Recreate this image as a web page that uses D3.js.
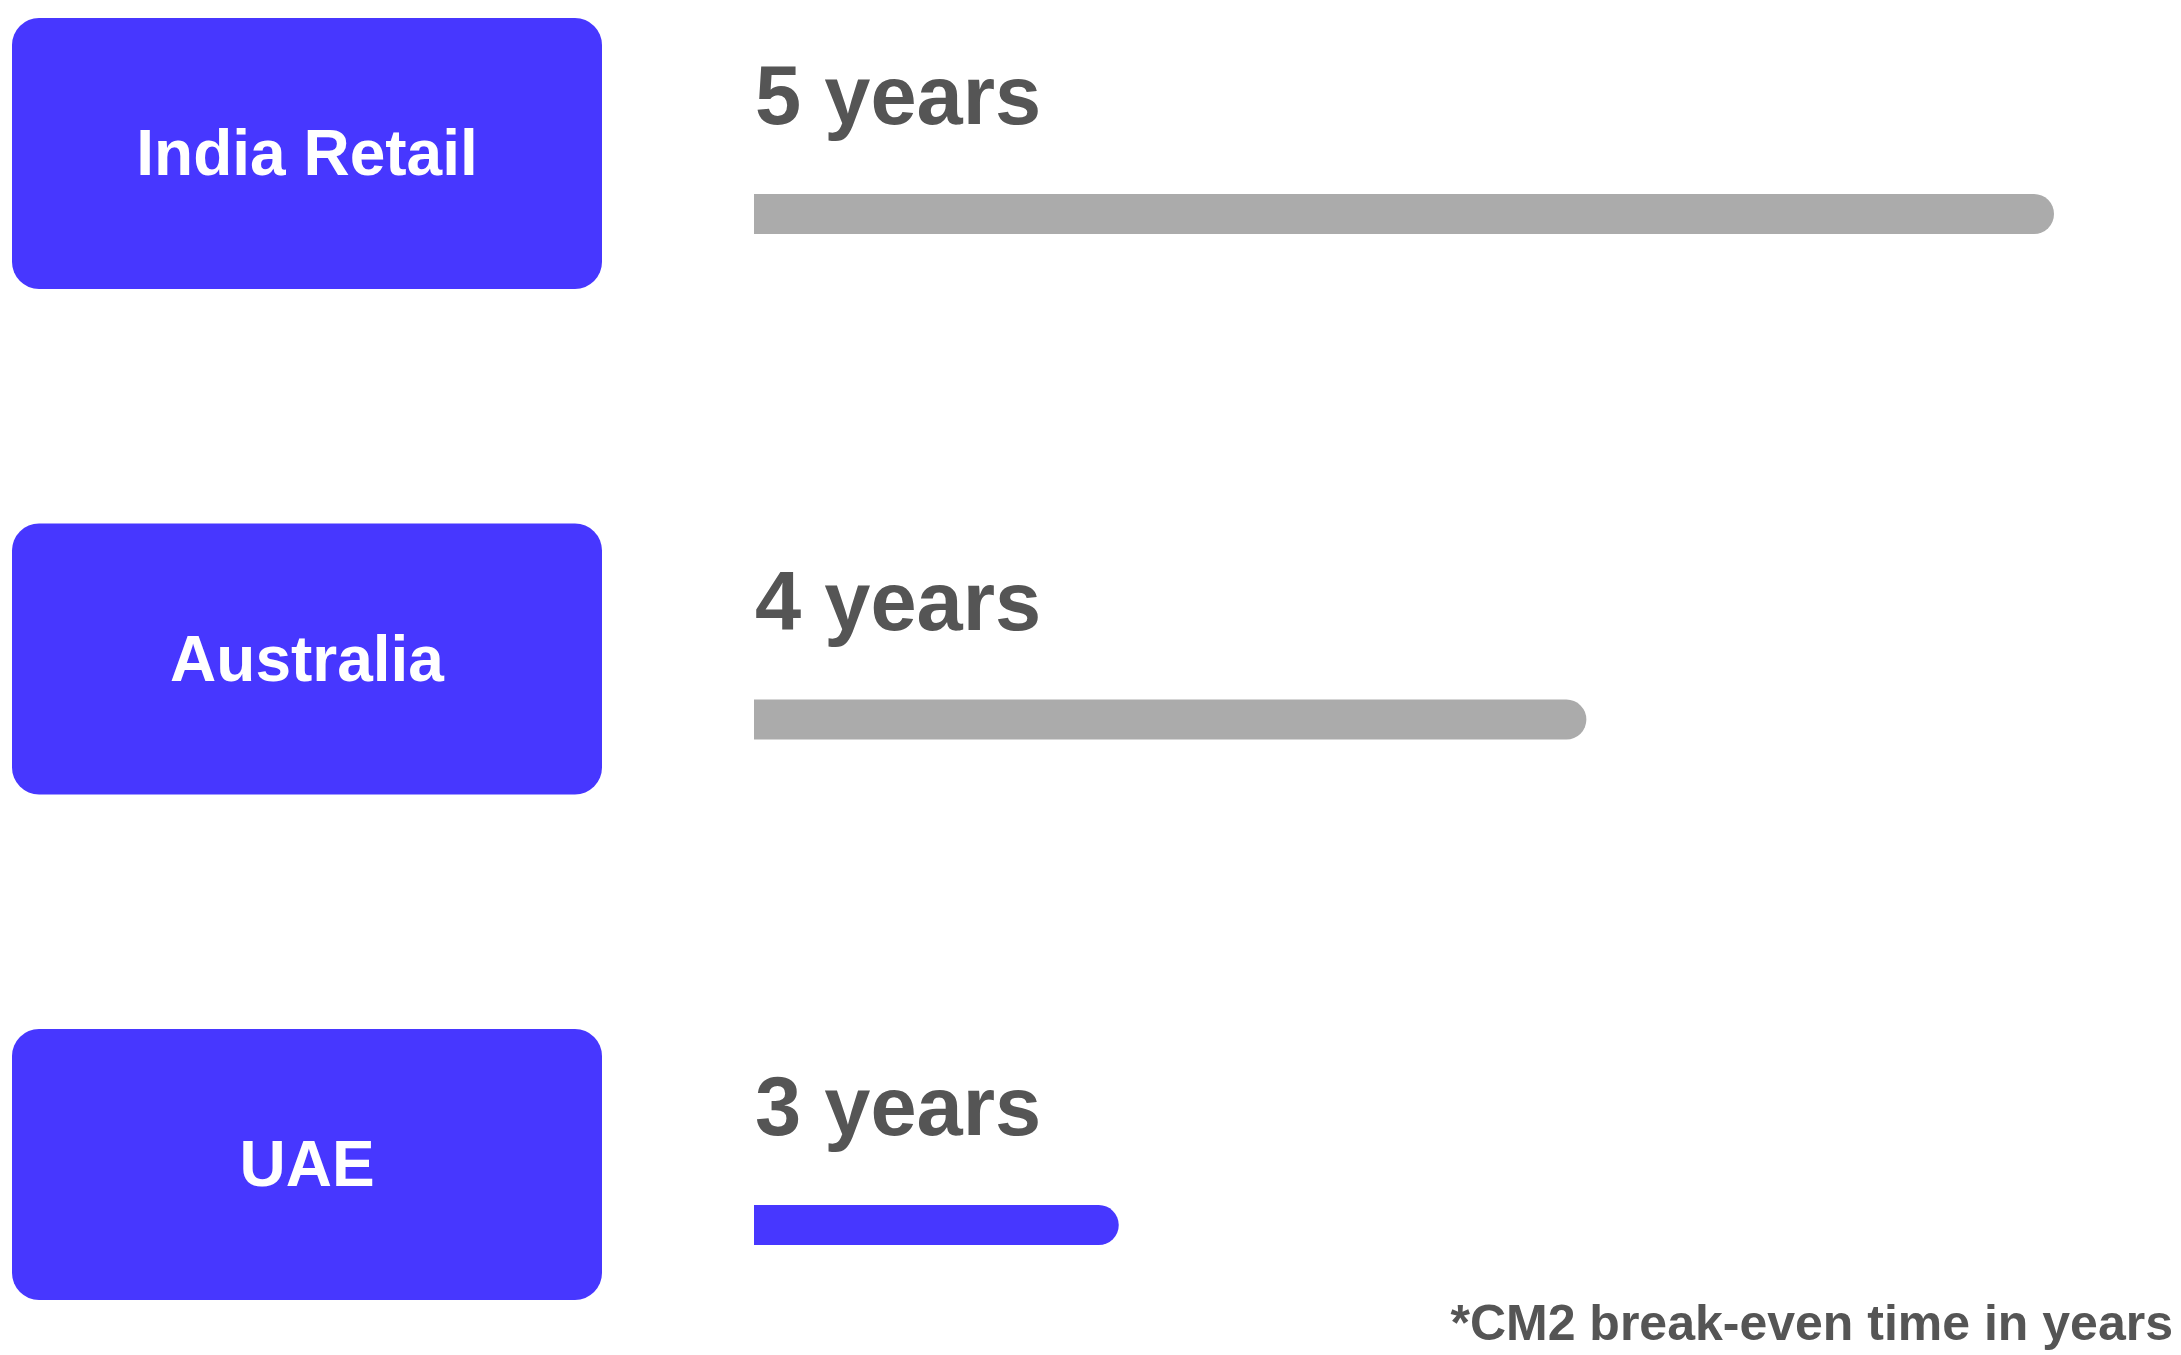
<!DOCTYPE html>
<html>
<head>
<meta charset="utf-8">
<script src="https://cdn.jsdelivr.net/npm/d3@7"></script>
<style>
  html, body { margin: 0; padding: 0; background: #ffffff; }
  svg { display: block; }
</style>
</head>
<body>
<svg id="chart" width="2181" height="1355"></svg>
<script>
// Markets and their CM2 break-even time (years)
const markets = ["India Retail", "Australia", "UAE"];
const breakEvenYears = [5, 4, 3];
const valueLabels = ["5 years", "4 years", "3 years"];
const footnote = "*CM2 break-even time in years";
const highlighted = "UAE";

const W = 2181, H = 1355;
const BLUE = "#4737ff", GREY = "#ababab", TEXT = "#555555";
const FONT = "'Liberation Sans', Arial, sans-serif";

const svg = d3.select("#chart");

// one row per market
const y = d3.scaleBand()
  .domain(markets)
  .range([18, 1300])
  .paddingInner(0.464)
  .paddingOuter(0);

// bar length scale (years)
const x = d3.scaleLinear()
  .domain([2.22, 5])
  .range([754, 2054]);

const barH = 40;
const rows = markets.map((m, i) => ({
  market: m, value: breakEvenYears[i], label: valueLabels[i]
}));

const g = svg.selectAll("g.row")
  .data(rows)
  .join("g")
  .attr("class", "row")
  .attr("transform", d => `translate(0,${y(d.market)})`);

// market tiles
g.append("rect")
  .attr("x", 12)
  .attr("y", 0)
  .attr("width", 590)
  .attr("height", y.bandwidth())
  .attr("rx", 27)
  .attr("ry", 27)
  .attr("fill", BLUE);

g.append("text")
  .attr("x", 307)
  .attr("y", 157)
  .attr("text-anchor", "middle")
  .attr("fill", "#ffffff")
  .attr("font-family", FONT)
  .attr("font-weight", 700)
  .attr("font-size", 64)
  .text(d => d.market);

// value labels
g.append("text")
  .attr("x", 755)
  .attr("y", 106)
  .attr("fill", TEXT)
  .attr("font-family", FONT)
  .attr("font-weight", 700)
  .attr("font-size", 83)
  .text(d => d.label);

// bars: square start, rounded end
g.append("path")
  .attr("fill", d => d.market === highlighted ? BLUE : GREY)
  .attr("d", d => {
    const x0 = x.range()[0], x1 = x(d.value), r = barH / 2, top = 176;
    const p = d3.path();
    p.moveTo(x0, top);
    p.lineTo(x1 - r, top);
    p.arc(x1 - r, top + r, r, -Math.PI / 2, Math.PI / 2, false);
    p.lineTo(x0, top + barH);
    p.closePath();
    return p.toString();
  });

// footnote
svg.append("text")
  .attr("x", 2173)
  .attr("y", 1340)
  .attr("text-anchor", "end")
  .attr("fill", TEXT)
  .attr("font-family", FONT)
  .attr("font-weight", 700)
  .attr("font-size", 50)
  .text(footnote);
</script>
</body>
</html>
